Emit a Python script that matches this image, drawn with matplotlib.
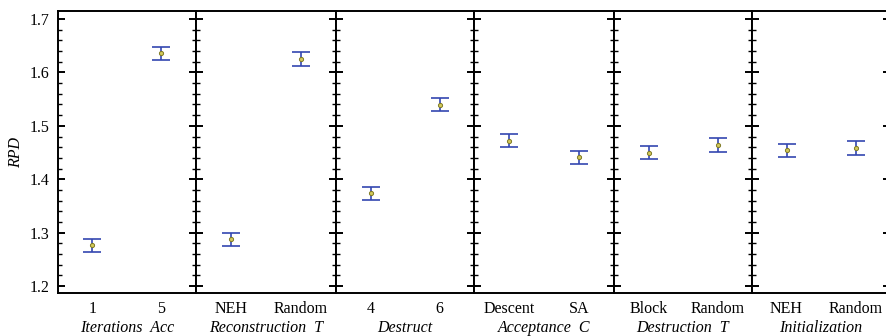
import matplotlib.pyplot as plt
from matplotlib.ticker import MultipleLocator

# Factors, levels and means with interval bounds
factors = ['Iterations  Acc', 'Reconstruction  T', 'Destruct',
           'Acceptance  C', 'Destruction  T', 'Initialization']
levels = [['1', '5'], ['NEH', 'Random'], ['4', '6'],
          ['Descent', 'SA'], ['Block', 'Random'], ['NEH', 'Random']]
means = [[1.277, 1.637], [1.288, 1.625], [1.374, 1.539],
         [1.472, 1.441], [1.450, 1.464], [1.454, 1.459]]
lower = [[1.264, 1.623], [1.275, 1.612], [1.362, 1.527],
         [1.460, 1.429], [1.437, 1.451], [1.441, 1.446]]
upper = [[1.289, 1.648], [1.300, 1.638], [1.385, 1.553],
         [1.485, 1.453], [1.462, 1.477], [1.466, 1.472]]

W, H = 886, 336
edges = [58, 195.5, 336, 474, 614, 752, 890]
top, bottom = 11, 293

plt.rcParams['font.family'] = ['Liberation Serif', 'DejaVu Serif']

fig = plt.figure(figsize=(W / 100, H / 100), dpi=100)

for i, name in enumerate(factors):
    rect = [edges[i] / W, (H - bottom) / H,
            (edges[i + 1] - edges[i]) / W, (bottom - top) / H]
    ax = fig.add_axes(rect)
    x = [0, 1]
    m = means[i]
    err = [[m[k] - lower[i][k] for k in x], [upper[i][k] - m[k] for k in x]]
    ax.errorbar(x, m, yerr=err, fmt='none', ecolor='#3447b0',
                elinewidth=1.2, capsize=6.8, capthick=1.2)
    ax.plot(x, m, 'o', ms=3.0, mfc='#d2c85a', mec='#7f7a25', mew=0.7)

    ax.set_xlim(-0.5, 1.5)
    ax.set_ylim(1.187, 1.715)
    ax.set_xticks(x)
    ax.set_xticklabels(levels[i], fontsize=11.5)
    ax.tick_params(axis='x', length=0, pad=6)
    ax.set_xlabel(name, fontsize=11.5, style='italic', labelpad=2)

    ax.yaxis.set_major_locator(MultipleLocator(0.1))
    ax.yaxis.set_minor_locator(MultipleLocator(0.02))
    for s in ax.spines.values():
        s.set_linewidth(1.4)

    if i == 0:
        ax.tick_params(axis='y', which='major', direction='in', length=5,
                       width=1.4, labelsize=11.5, pad=6)
        ax.tick_params(axis='y', which='minor', direction='in', length=3,
                       width=1.0)
        ax.set_ylabel('RPD', fontsize=11.5, style='italic', labelpad=4)
    else:
        ax.tick_params(axis='y', which='major', direction='inout', length=10,
                       width=1.4, labelleft=False)
        ax.tick_params(axis='y', which='minor', direction='inout', length=6,
                       width=1.0)
    if i == len(factors) - 1:
        ax.tick_params(axis='y', which='both', right=True)

fig.savefig('out.png', dpi=100)
